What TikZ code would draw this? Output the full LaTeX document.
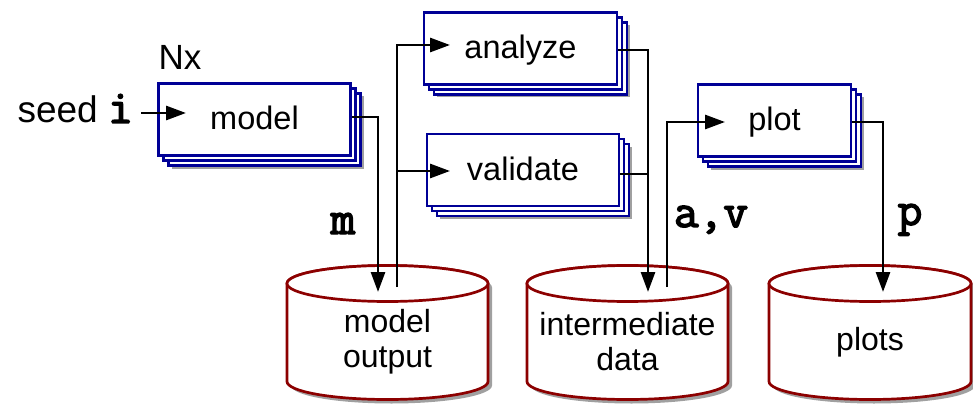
\documentclass[tikz,border=0pt]{standalone}
\usepackage{fontspec}
\setmainfont{Liberation Sans}
\newfontfamily\codefont{Latin Modern Mono}[FakeBold=3]
\usetikzlibrary{arrows.meta,shadows,calc}

\definecolor{boxblue}{RGB}{0,0,150}
\definecolor{storered}{RGB}{140,0,0}
\definecolor{shadegray}{RGB}{160,160,160}

% data store drawn as a cylinder: #1 name, #2 centre x, #3 half width, #4 text
\newcommand\datastore[4]{%
  \begin{scope}[shift={(#2,0)}]
    \fill[shadegray] (-#3+4,287.5) arc[start angle=180,end angle=0,x radius=#3pt,y radius=18pt]
      -- (#3+4,385.5) arc[start angle=0,end angle=-180,x radius=#3pt,y radius=18pt] -- cycle;
    \filldraw[store] (-#3,283.5) arc[start angle=180,end angle=0,x radius=#3pt,y radius=18pt]
      -- (#3,381.5) arc[start angle=0,end angle=-180,x radius=#3pt,y radius=18pt] -- cycle;
    \draw[store] (0,283.5) ellipse[x radius=#3pt,y radius=18pt];
    \node[storetext] (#1) at (0,342) {#4};
  \end{scope}}

\begin{document}
\begin{tikzpicture}[x=1pt,y=-1pt,
  proc/.style={draw=boxblue, fill=white, line width=2.7pt,
    minimum height=72pt, text height=25pt, text depth=4pt,
    font=\fontsize{32.5}{38}\selectfont,
    general shadow={shadow xshift=13pt, shadow yshift=-13pt, opacity=1,
      fill=shadegray, draw=none},
    general shadow={shadow xshift=10pt, shadow yshift=-10pt, opacity=1,
      fill=white, draw=boxblue, line width=2.7pt},
    general shadow={shadow xshift=5pt, shadow yshift=-5pt, opacity=1,
      fill=white, draw=boxblue, line width=2.7pt}},
  store/.style={draw=storered, fill=white, line width=2.7pt},
  storetext/.style={align=center, font=\fontsize{32}{35}\selectfont, inner sep=0pt},
  var/.style={font=\codefont\fontsize{48}{52}\selectfont, inner sep=0pt},
  conn/.style={line width=2.8pt, -{Triangle[length=20pt,width=14pt]}},
  wire/.style={line width=2.8pt}
]
\useasboundingbox (0,0) rectangle (973,406);

% processing steps (each a stack of copies)
\node[proc, minimum width=192pt] (model)    at (254.5,119.5) {model};
\node[proc, minimum width=193pt] (analyze)  at (520.5,48.5)  {analyze};
\node[proc, minimum width=192pt] (validate) at (523,170)     {validate};
\node[proc, minimum width=153pt] (plot)     at (774.5,120.5) {plot};

% data stores
\datastore{modelout}{387.5}{100.5}{model\\output}
\datastore{interdata}{627.5}{100.5}{intermediate\\data}
\datastore{plots}{870}{101}{plots}

% labels
\node[font=\fontsize{35}{40}\selectfont, inner sep=0pt, anchor=base] (nx) at (180,70) {Nx};
\node[inner sep=0pt, anchor=base east] (seed) at (133,123)
  {\fontsize{37}{40}\selectfont seed \codefont\fontsize{48}{52}\selectfont i};
\node[var, anchor=base] (m)  at (343,234) {m};
\node[var, anchor=base] (av) at (711,227) {a,v};
\node[var, anchor=base] (p)  at (910,225) {p};

% entry and exit points
\coordinate (model-in)   at (186,113);
\coordinate (analyze-in) at (450,45);
\coordinate (valid-in)   at (450,171);
\coordinate (plot-in)    at (725,122);
\coordinate (mo-in)  at (378,292);
\coordinate (mo-out) at (397,287);
\coordinate (id-in)  at (648,292);
\coordinate (id-out) at (667,287);
\coordinate (pl-in)  at (883,292);

% connectors
\draw[conn] ($(seed.east |- model-in)+(8,0)$) -- (model-in);
\draw[conn] ($(model.east)+(0,-2.5)$) -| (mo-in);
\draw[conn] (mo-out) |- (analyze-in);
\draw[conn] (mo-out |- valid-in) -- (valid-in);
\draw[conn] ($(analyze.east)+(0,1.5)$) -| (id-in);
\draw[wire] ($(validate.east)+(0,4)$) -- (id-in |- {$(validate.east)+(0,4)$});
\draw[conn] (id-out) |- (plot-in);
\draw[conn] ($(plot.east)+(0,1.5)$) -| (pl-in);
\end{tikzpicture}
\end{document}
